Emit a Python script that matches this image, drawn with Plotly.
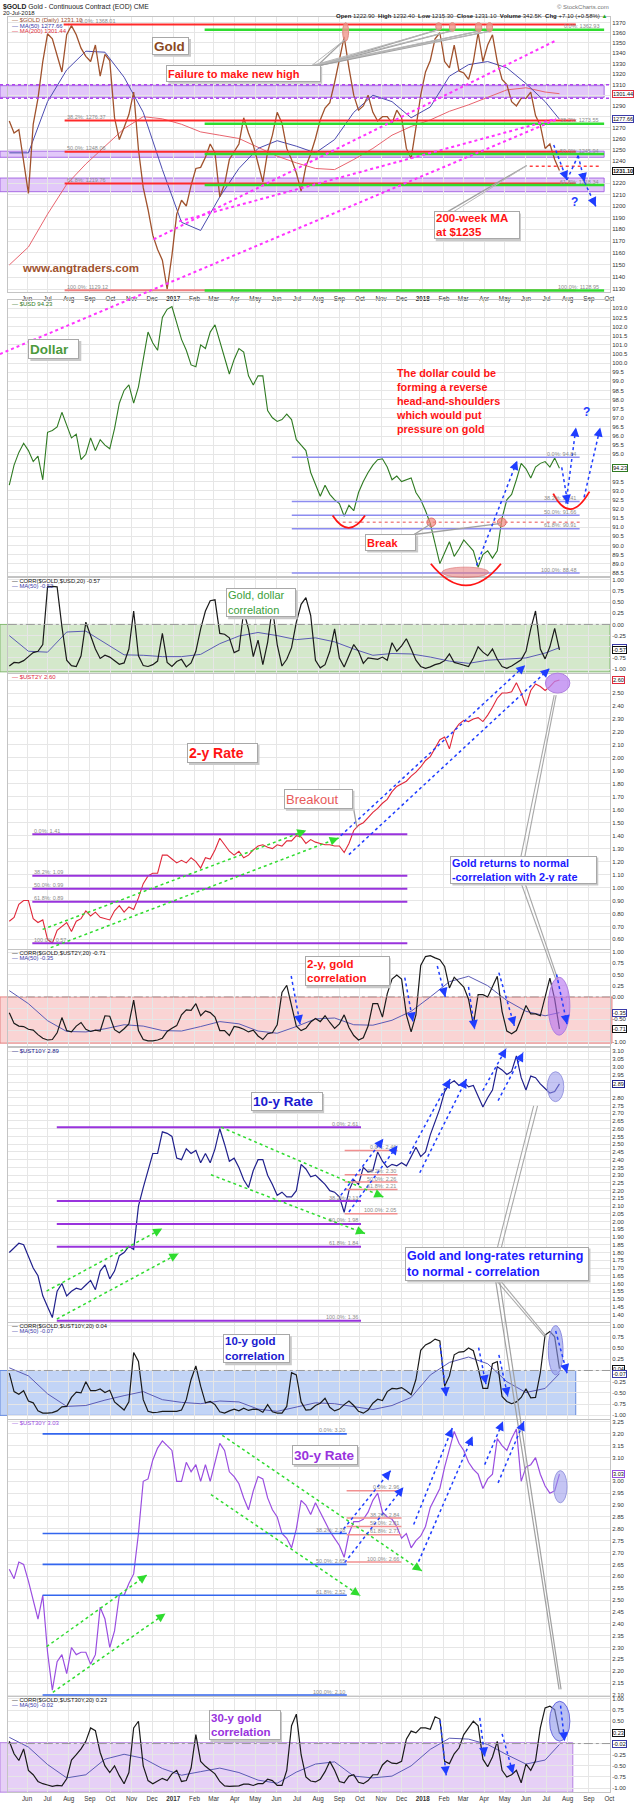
import math
import pandas as pd
import plotly.graph_objects as go

W, H = 640, 1803
SX = 2.414 / 2.45          # horizontal scale of the measured pixel positions
XL, XR = 8, 623            # plot area left/right in measured pixels
FONT = "Liberation Sans, Arial, sans-serif"

# ---------------- data (weekly Friday values) ----------------
weeks = pd.date_range("2016-05-06", "2018-07-20", freq="W-FRI")
ma_dates = weeks[list(range(0, len(weeks), 4)) + [len(weeks) - 1]]

gold = [1276, 1265, 1268, 1237, 1211, 1273, 1297, 1332, 1359, 1354,
        1337, 1322, 1358, 1367, 1358, 1345, 1337, 1332, 1348, 1318,
        1339, 1333, 1279, 1259, 1270, 1282, 1303, 1250, 1216, 1197,
        1175, 1163, 1154, 1130, 1158, 1193, 1205, 1200, 1218, 1233,
        1234, 1243, 1255, 1247, 1208, 1219, 1241, 1248, 1255, 1279,
        1265, 1254, 1238, 1221, 1248, 1263, 1284, 1274, 1251, 1241,
        1229, 1213, 1235, 1246, 1260, 1277, 1288, 1293, 1312, 1335,
        1356, 1326, 1300, 1286, 1290, 1300, 1284, 1276, 1280, 1280,
        1274, 1286, 1279, 1251, 1242, 1270, 1300, 1322, 1333, 1354,
        1360, 1332, 1326, 1348, 1323, 1321, 1315, 1332, 1360, 1332,
        1348, 1358, 1332, 1315, 1310, 1294, 1290, 1297, 1297, 1303,
        1281, 1272, 1251, 1255, 1241, 1231.1]
gold_ma50 = [1247, 1247, 1294, 1324, 1342, 1341, 1317, 1284, 1232, 1186,
             1179, 1208, 1233, 1251, 1258, 1253, 1247, 1259, 1284, 1300,
             1294, 1279, 1289, 1318, 1329, 1332, 1326, 1311, 1294, 1277.66]
gold_ma200 = [1150, 1165, 1193, 1219, 1237, 1253, 1269, 1280, 1278, 1273,
              1266, 1263, 1260, 1252, 1244, 1238, 1233, 1232, 1241, 1251,
              1263, 1271, 1277, 1285, 1291, 1298, 1305, 1307, 1303, 1301.44]

usd = [93.3, 94.4, 95.1, 95.6, 95.2, 94.6, 94.9, 93.6, 96.2, 96.3,
       96.5, 97.3, 96.6, 95.9, 96.1, 94.7, 95.0, 95.9, 95.2, 95.8,
       95.5, 95.3, 96.4, 97.8, 98.5, 98.8, 97.8, 98.7, 100.2, 101.7,
       101.1, 100.7, 102.5, 102.95, 103.1, 102.2, 101.3, 100.7, 99.9, 99.8,
       101.0, 100.8, 101.7, 102.1, 101.2, 100.2, 99.4, 100.2, 100.8, 100.6,
       99.3, 98.8, 99.3, 99.3, 97.4, 97.0, 96.8, 96.9, 97.2, 96.9,
       95.8, 95.5, 95.2, 94.0, 93.4, 92.7, 93.3, 92.8, 92.5, 92.3,
       91.6, 92.2, 91.9, 92.9, 93.5, 94.0, 94.4, 94.7, 94.75, 94.3,
       93.6, 93.8, 93.5, 93.6, 93.7, 92.9, 92.5, 91.9, 91.2, 90.1,
       89.0, 89.6, 90.2, 89.4, 89.8, 90.3, 90.0, 89.7, 88.8, 89.5,
       89.7, 89.3, 89.7, 91.5, 92.5, 92.8, 93.6, 94.5, 94.2, 93.7,
       94.3, 94.5, 94.6, 94.3, 94.8, 94.23]

corr_usd = [-0.93, -0.85, -0.86, -0.81, -0.72, -0.63, -0.6, -0.45, 0.84, 0.85,
            0.84, -0.05, -0.8, -0.92, -0.94, -0.7, 0.05, -0.25, -0.55, -0.76,
            -0.69, -0.73, -0.82, -0.89, -0.86, -0.55, 0.3, -0.7, -0.92, -0.94,
            -0.9, -0.82, -0.2, -0.85, -0.94, -0.83, -0.78, -0.95, -0.86, -0.6,
            -0.1, 0.3, 0.53, 0.55, -0.2, -0.22, -0.3, -0.63, -0.58, 0.3,
            -0.1, -0.72, -0.35, -0.9, -0.4, 0.39, -0.45, -0.93, -0.78, -0.52,
            0.05, 0.45, 0.6, 0.2, -0.8, -0.97, -0.9, -0.6, -0.1, -0.75,
            -0.95, -0.71, -0.45, -0.6, -0.87, -0.75, -0.76, -0.78, -0.73, -0.8,
            -0.41, -0.6, -0.48, -0.32, -0.55, -0.8, -0.94, -0.98, -0.95, -0.9,
            -0.87, -0.81, -0.66, -0.85, -0.88, -0.91, -0.94, -0.75, -0.5, -0.62,
            -0.7, -0.55, -0.78, -0.94, -0.98, -0.93, -0.85, -0.79, -0.6, -0.1,
            0.3, -0.55, -0.77, -0.5, -0.09, -0.57]
corr_usd_ma = [-0.25, -0.6, -0.62, -0.17, -0.15, -0.42, -0.68, -0.69, -0.72, -0.72,
               -0.67, -0.43, -0.26, -0.18, -0.25, -0.34, -0.3, -0.39, -0.55, -0.69,
               -0.65, -0.66, -0.73, -0.82, -0.87, -0.8, -0.78, -0.75, -0.64, -0.52]

ust2y = [0.74, 0.77, 0.87, 0.9, 0.9, 0.76, 0.73, 0.75, 0.6, 0.57,
         0.67, 0.7, 0.73, 0.66, 0.74, 0.76, 0.82, 0.78, 0.81, 0.77,
         0.76, 0.75, 0.82, 0.86, 0.81, 0.85, 0.83, 0.92, 1.03, 1.09,
         1.11, 1.11, 1.25, 1.25, 1.22, 1.19, 1.21, 1.19, 1.23, 1.2,
         1.15, 1.23, 1.22, 1.29, 1.38, 1.33, 1.28, 1.25, 1.28, 1.23,
         1.25, 1.29, 1.32, 1.33, 1.31, 1.3, 1.33, 1.32, 1.36, 1.36,
         1.4, 1.39, 1.34, 1.37, 1.35, 1.34, 1.33, 1.33, 1.32, 1.32,
         1.27, 1.34, 1.44, 1.48, 1.5, 1.54, 1.58, 1.61, 1.65, 1.68,
         1.74, 1.78, 1.8, 1.82, 1.86, 1.89, 1.93, 1.98, 2.01, 2.08,
         2.14, 2.16, 2.07, 2.21, 2.26, 2.29, 2.28, 2.3, 2.31, 2.28,
         2.33, 2.39, 2.46, 2.5, 2.5, 2.51, 2.58, 2.5, 2.4, 2.52,
         2.57, 2.55, 2.52, 2.55, 2.59, 2.6]

corr_2y = [-0.35, -0.59, -0.65, -0.66, -0.72, -0.74, -0.84, -0.92, -0.96, -0.95,
           -0.8, -0.46, -0.75, -0.78, -0.65, -0.57, -0.72, -0.77, -0.74, -0.76,
           -0.42, -0.43, -0.73, -0.8, -0.71, -0.6, -0.07, -0.75, -0.95, -0.98,
           -0.98, -0.96, -0.92, -0.77, -0.7, -0.64, -0.4, -0.29, -0.3, -0.15,
           -0.42, -0.31, -0.35, -0.45, -0.75, -0.75, -0.86, -0.66, -0.68, -0.72,
           -0.78, -0.74, -0.87, -0.95, -0.82, -0.8, -0.62, 0.1, 0.26, -0.2,
           -0.65, -0.75, -0.7, -0.56, -0.48, -0.55, -0.42, -0.57, -0.7, -0.6,
           -0.4, -0.68, -0.86, -0.96, -0.91, -0.65, -0.15, -0.15, -0.45, 0.07,
           0.4, 0.49, 0.4, -0.4, -0.78, -0.4, 0.7, 0.9, 0.92, 0.87,
           0.83, 0.68, 0.2, 0.44, 0.32, 0.22, -0.05, -0.62, 0.05, 0.05,
           0.0, 0.22, 0.46, -0.32, -0.76, -0.82, -0.75, -0.48, -0.19, -0.38,
           -0.38, -0.42, 0.0, 0.42, -0.05, -0.71]
corr_2y_ma = [0.14, -0.15, -0.53, -0.77, -0.78, -0.71, -0.62, -0.65, -0.75, -0.76,
              -0.66, -0.55, -0.6, -0.76, -0.81, -0.66, -0.49, -0.47, -0.62, -0.63,
              -0.52, -0.32, 0.0, 0.34, 0.46, 0.25, -0.08, -0.32, -0.42, -0.35]

ust10y = [1.80, 1.83, 1.86, 1.85, 1.78, 1.70, 1.65, 1.52, 1.45, 1.38,
          1.55, 1.6, 1.52, 1.55, 1.57, 1.56, 1.59, 1.62, 1.56, 1.68,
          1.72, 1.63, 1.68, 1.78, 1.80, 1.84, 1.82, 2.10, 2.22, 2.33,
          2.44, 2.44, 2.58, 2.57, 2.55, 2.41, 2.40, 2.47, 2.44, 2.46,
          2.38, 2.44, 2.38, 2.47, 2.6, 2.5, 2.39, 2.41, 2.35, 2.27,
          2.22, 2.33, 2.40, 2.4, 2.3, 2.24, 2.17, 2.19, 2.16, 2.16,
          2.2, 2.37, 2.34, 2.29, 2.3, 2.27, 2.24, 2.2, 2.19, 2.16,
          2.06, 2.2, 2.27, 2.24, 2.35, 2.32, 2.33, 2.45, 2.39, 2.35,
          2.37, 2.36, 2.38, 2.36, 2.42, 2.48, 2.42, 2.45, 2.56, 2.65,
          2.73, 2.84, 2.89, 2.91, 2.88, 2.9, 2.87, 2.88, 2.81, 2.74,
          2.8, 2.85, 3.0, 2.98, 2.95, 2.97, 3.07, 2.93, 2.85, 2.94,
          2.93, 2.89, 2.86, 2.83, 2.84, 2.89]

corr_10y = [-0.06, -0.47, -0.53, -0.45, -0.68, -0.72, -0.9, -0.95, -0.95, -0.94,
            -0.9, -0.81, -0.8, -0.6, -0.48, -0.5, -0.25, -0.45, -0.45, -0.41,
            -0.49, -0.44, -0.7, -0.8, -0.88, -0.7, 0.4, 0.2, -0.65, -0.91,
            -0.94, -0.93, -0.91, -0.91, -0.91, -0.91, -0.88, -0.65, -0.2, 0.1,
            -0.35, -0.72, -0.69, -0.76, -0.92, -0.95, -0.9, -0.86, -0.9, -0.84,
            -0.89, -0.86, -0.87, -0.93, -0.76, -0.92, -0.95, -0.95, -0.8, -0.05,
            -0.1, -0.7, -0.88, -0.87, -0.78, -0.73, -0.62, -0.82, -0.9, -0.86,
            -0.76, -0.68, -0.78, -0.91, -0.95, -0.88, -0.73, -0.64, -0.67, -0.47,
            -0.4, -0.41, -0.38, -0.45, -0.54, -0.2, 0.45, 0.57, 0.62, 0.7,
            0.66, -0.35, -0.12, 0.35, 0.41, 0.42, 0.5, 0.44, 0.06, -0.4,
            -0.4, 0.15, 0.2, -0.58, -0.69, -0.74, -0.7, -0.6, -0.41, -0.61,
            -0.6, -0.05, 0.79, 0.87, 0.75, 0.04]
corr_10y_ma = [0.06, -0.12, -0.52, -0.8, -0.78, -0.66, -0.56, -0.47, -0.65, -0.71,
               -0.74, -0.68, -0.7, -0.86, -0.91, -0.82, -0.72, -0.74, -0.81, -0.87,
               -0.78, -0.6, -0.1, 0.18, 0.3, 0.15, -0.25, -0.49, -0.4, -0.07]

ust30y = [2.63, 2.59, 2.66, 2.65, 2.58, 2.5, 2.42, 2.52, 2.28, 2.12,
          2.24, 2.27, 2.19, 2.3, 2.27, 2.28, 2.28, 2.23, 2.27, 2.47,
          2.42, 2.3, 2.37, 2.52, 2.52, 2.57, 2.61, 2.78, 3.0, 3.01,
          3.09, 3.14, 3.17, 3.15, 3.13, 3.0, 3.0, 3.08, 3.04, 3.07,
          3.0, 3.07, 3.0, 3.08, 3.16, 3.13, 3.04, 3.02, 2.99, 2.93,
          2.88, 2.96, 3.02, 3.01, 2.93, 2.88, 2.85, 2.78, 2.76, 2.72,
          2.8, 2.92, 2.9, 2.86, 2.91, 2.87, 2.83, 2.79, 2.76, 2.73,
          2.68, 2.78, 2.83, 2.83, 2.84, 2.87, 2.92, 2.95, 2.87, 2.85,
          2.84, 2.81, 2.76, 2.78, 2.72, 2.75, 2.77, 2.81, 2.89, 2.93,
          2.97, 3.06, 3.14, 3.21, 3.16, 3.13, 3.08, 3.05, 3.03, 2.97,
          3.01, 3.03, 3.18, 3.15, 3.13, 3.18, 3.22, 3.0, 3.06, 3.07,
          3.1, 3.03, 2.98, 2.95, 2.96, 3.03]

corr_30y = [0.05, -0.23, -0.38, -0.12, -0.6, -0.7, -0.85, -0.9, -0.93, -0.96,
            -0.94, -0.95, -0.79, -0.37, -0.25, -0.12, 0.05, 0.35, 0.29, -0.2,
            -0.5, -0.65, -0.5, -0.72, -0.9, -0.65, 0.35, 0.5, -0.5, -0.83,
            -0.9, -0.84, -0.78, -0.83, -0.68, -0.6, -0.85, -0.83, -0.55, 0.2,
            -0.4, -0.51, -0.6, -0.68, -0.85, -0.95, -0.96, -0.96, -0.95, -0.91,
            -0.91, -0.94, -0.9, -0.9, -0.8, -0.83, -0.94, -0.94, -0.6, 0.4,
            0.66, -0.25, -0.75, -0.84, -0.86, -0.8, -0.63, -0.4, -0.6, -0.85,
            -0.88, -0.73, -0.7, -0.87, -0.9, -0.83, -0.7, -0.7, -0.48, -0.38,
            -0.44, -0.45, -0.4, 0.1, 0.28, 0.24, 0.35, 0.35, 0.32, 0.6,
            0.55, -0.4, -0.45, -0.23, -0.1, 0.2, 0.34, 0.5, 0.4, -0.35,
            -0.52, -0.3, 0.05, -0.6, -0.75, -0.7, -0.6, -0.88, -0.46, -0.6,
            -0.38, 0.35, 0.8, 0.84, 0.76, 0.23]
corr_30y_ma = [0.14, -0.08, -0.47, -0.77, -0.7, -0.35, -0.24, -0.33, -0.56, -0.71,
               -0.63, -0.55, -0.65, -0.82, -0.89, -0.64, -0.46, -0.41, -0.73, -0.77,
               -0.73, -0.5, -0.13, 0.12, 0.1, -0.02, -0.25, -0.46, -0.37, -0.02]

for s in (gold, usd, corr_usd, ust2y, corr_2y, ust10y, corr_10y, ust30y, corr_30y):
    assert len(s) == len(weeks), len(s)
for s in (gold_ma50, gold_ma200, corr_usd_ma, corr_2y_ma, corr_10y_ma, corr_30y_ma):
    assert len(s) == len(ma_dates), len(s)

# last values shown in boxes on the price axis
last_marks = {
    "gold": [(1301.44, "1301.44", "#e03040", False), (1277.66, "1277.66", "#3a3aa8", False),
             (1231.10, "1231.10", "#111", True)],
    "usd": [(94.23, "94.23", "#2f7a22", False)],
    "cusd": [(-0.52, "-0.52", "#3a3aa8", False), (-0.57, "-0.57", "#111", False)],
    "u2": [(2.60, "2.60", "#e0283a", False)],
    "c2": [(-0.35, "-0.35", "#3a3aa8", False), (-0.71, "-0.71", "#111", False)],
    "u10": [(2.89, "2.89", "#20208c", False)],
    "c10": [(0.04, "0.04", "#111", False), (-0.07, "-0.07", "#3a3aa8", False)],
    "u30": [(3.03, "3.03", "#9a4ee0", False)],
    "c30": [(0.23, "0.23", "#111", False), (-0.02, "-0.02", "#3a3aa8", False)],
}

# ---------------- panel geometry: key -> (top px, bottom px, low, high, log) ----------------
KEYS = ["gold", "usd", "cusd", "u2", "c2", "u10", "c10", "u30", "c30"]
P = {
    "gold": (15, 291, 1127.6, 1375.6, True),
    "usd": (299, 576, 88.30, 103.45, False),
    "cusd": (578, 673, -1.089, 1.029, False),
    "u2": (674, 950, 0.523, 2.646, False),
    "c2": (951, 1047, -1.096, 1.038, False),
    "u10": (1049, 1324, 1.349, 3.121, False),
    "c10": (1325, 1421, -1.082, 1.051, False),
    "u30": (1422, 1699, 2.0946, 3.258, False),
    "c30": (1700, 1795, -1.087, 1.038, False),
}
corr_ticks = [-1 + 0.25 * k for k in range(9)]
TICKS = {
    "gold": ([1130 + 10 * k for k in range(25)], "{:.0f}"),
    "usd": ([88.5 + 0.5 * k for k in range(30)], "{:.1f}"),
    "cusd": (corr_ticks, "{:.2f}"),
    "u2": ([0.6 + 0.1 * k for k in range(21)], "{:.2f}"),
    "c2": (corr_ticks, "{:.2f}"),
    "u10": ([1.40 + 0.05 * k for k in range(35)], "{:.2f}"),
    "c10": (corr_ticks, "{:.2f}"),
    "u30": ([2.10 + 0.05 * k for k in range(24)], "{:.2f}"),
    "c30": (corr_ticks, "{:.2f}"),
}


def vy(key, v):
    top, bot, lo, hi, log = P[key]
    if log:
        f = (math.log10(hi) - math.log10(v)) / (math.log10(hi) - math.log10(lo))
    else:
        f = (hi - v) / (hi - lo)
    return top + f * (bot - top)


def px2date(x):
    return pd.Timestamp("2017-01-01") + pd.to_timedelta((x - 177) / 0.698, unit="D")


def X(x):
    return x * SX / W


def Y(y):
    return 1 - y / H


GRID = "#e6e6e6"
EDGE = "#c4c4c4"
RED = "#ff1414"
BLUE = "#1f3dff"
GREEN_A = "#2fdc2f"

fig = go.Figure()


def ax_id(key):
    k = KEYS.index(key) + 1
    return "" if k == 1 else str(k)


def add(key, x, y, color, width=1.1):
    s = ax_id(key)
    fig.add_trace(go.Scatter(x=x, y=y, mode="lines", line=dict(color=color, width=width),
                             xaxis="x" + s, yaxis="y" + s, hoverinfo="skip", showlegend=False))


add("gold", ma_dates, gold_ma200, "#e8646e", 1.0)
add("gold", ma_dates, gold_ma50, "#4b4bb0", 1.0)
add("gold", weeks, gold, "#a0522d", 1.3)
add("usd", weeks, usd, "#2f7a22", 1.1)
add("cusd", ma_dates, corr_usd_ma, "#5b5bb5", 1.0)
add("cusd", weeks, corr_usd, "#1a1a1a", 1.2)
add("u2", weeks, ust2y, "#e0283a", 1.1)
add("c2", ma_dates, corr_2y_ma, "#5b5bb5", 1.0)
add("c2", weeks, corr_2y, "#1a1a1a", 1.2)
add("u10", weeks, ust10y, "#20208c", 1.2)
add("c10", ma_dates, corr_10y_ma, "#5b5bb5", 1.0)
add("c10", weeks, corr_10y, "#1a1a1a", 1.2)
add("u30", weeks, ust30y, "#9a4ee0", 1.2)
add("c30", ma_dates, corr_30y_ma, "#5b5bb5", 1.0)
add("c30", weeks, corr_30y, "#1a1a1a", 1.2)

# ---------------- axes ----------------
xr = [px2date(XL), px2date(XR)]
months = pd.date_range("2016-06-01", "2018-10-01", freq="MS")
month_text = ["<b>%d</b>" % d.year if d.month == 1 else d.strftime("%b") for d in months]
layout = {}
for key in KEYS:
    s = ax_id(key)
    top, bot, lo, hi, log = P[key]
    vals, fmt = TICKS[key]
    covered = [vy(key, m[0]) for m in last_marks[key]]
    labels = ["" if any(abs(vy(key, v) - c) < 6.5 for c in covered) else fmt.format(v)
              for v in vals]
    show_x = key in ("gold", "c30")
    layout["xaxis" + s] = dict(domain=[X(XL), X(XR)], anchor="y" + s, type="date", range=xr,
                               tickvals=list(months), ticktext=month_text, showticklabels=show_x,
                               ticks="", showgrid=True, gridcolor=GRID, zeroline=False,
                               showline=True, mirror=True, linecolor=EDGE,
                               tickfont=dict(size=6.3, color="#333"), fixedrange=True)
    layout["yaxis" + s] = dict(domain=[Y(bot), Y(top)], anchor="x" + s, side="right",
                               type="log" if log else "linear",
                               range=[math.log10(lo), math.log10(hi)] if log else [lo, hi],
                               tickvals=vals, ticktext=labels,
                               ticks="", showgrid=True, gridcolor=GRID, zeroline=False,
                               showline=True, mirror=True, linecolor=EDGE,
                               tickfont=dict(size=6, color="#333"), fixedrange=True)

# ---------------- drawing helpers (chart markup, measured pixel positions) ----------------
shapes, annos = [], []


def line(x0, y0, x1, y1, color, width=1.5, dash=None, layer="above"):
    shapes.append(dict(type="line", xref="paper", yref="paper", x0=X(x0), y0=Y(y0),
                       x1=X(x1), y1=Y(y1), layer=layer,
                       line=dict(color=color, width=width, dash=dash)))


def arrow(x0, y0, x1, y1, color=BLUE, width=1.5, dash="dot"):
    line(x0, y0, x1, y1, color, width, dash)
    dx, dy = (x1 - x0) * SX, (y1 - y0)
    L = math.hypot(dx, dy)
    annos.append(dict(xref="paper", yref="paper", x=X(x1), y=Y(y1), ax=-dx / L * 7, ay=-dy / L * 7,
                      showarrow=True, arrowhead=2, arrowsize=1.2, arrowwidth=width,
                      arrowcolor=color, text=""))


def ellipse(x0, y0, x1, y1, fill, edge):
    shapes.append(dict(type="circle", xref="paper", yref="paper", x0=X(x0), y0=Y(y1),
                       x1=X(x1), y1=Y(y0), fillcolor=fill, line=dict(color=edge, width=1),
                       layer="above"))


def arc(p0, c, p1, color=RED, width=1.8):
    f = lambda p: "%.5f,%.5f" % (X(p[0]), Y(p[1]))
    shapes.append(dict(type="path", xref="paper", yref="paper",
                       path="M %s Q %s %s" % (f(p0), f(c), f(p1)),
                       line=dict(color=color, width=width), layer="above"))


def hlev(key, v, x0, x1, color, width=2, dash=None):
    y = vy(key, v)
    line(x0, y, x1, y, color, width, dash)


def band(key, v0, v1, x0, x1, fill, edge):
    shapes.append(dict(type="rect", xref="paper", yref="paper", x0=X(x0), x1=X(x1),
                       y0=Y(vy(key, v0)), y1=Y(vy(key, v1)), fillcolor=fill,
                       line=dict(color=edge, width=1), layer="below"))


def text(x, y, s, color, size, xanchor="left", yanchor="middle", align="left"):
    annos.append(dict(xref="paper", yref="paper", x=X(x), y=Y(y), text=s, showarrow=False,
                      xanchor=xanchor, yanchor=yanchor, align=align,
                      font=dict(size=size, color=color, family=FONT)))


def box(x, y, w, h, s, color, size, bold=True):
    shapes.append(dict(type="rect", xref="paper", yref="paper", x0=X(x) + 2 / W,
                       x1=X(x + w) + 2 / W, y0=Y(y + h + 2), y1=Y(y + 2), fillcolor="#c9c9c9",
                       line=dict(width=0), layer="above"))
    annos.append(dict(xref="paper", yref="paper", x=X(x), y=Y(y), xanchor="left",
                      yanchor="top", width=w * SX - 4, height=h - 4, borderpad=1, borderwidth=1,
                      bordercolor="#a8a8a8", bgcolor="white", showarrow=False, align="left",
                      valign="middle", text=("<b>%s</b>" % s) if bold else s,
                      font=dict(size=size, color=color, family=FONT)))


def fiblab(key, v, s, x, anchor):
    text(x, vy(key, v) - 3.5, s, "#8c8c8c", 5.5, xanchor=anchor)


for key in KEYS:
    for v, s, color, bold in last_marks[key]:
        annos.append(dict(xref="paper", yref="paper", x=616 / W, y=Y(vy(key, v)),
                          xanchor="left", yanchor="middle", text=("<b>%s</b>" % s) if bold else s,
                          showarrow=False, bgcolor="white", bordercolor=color, borderwidth=1,
                          borderpad=0, font=dict(size=5.6, color="#111", family=FONT)))

# ---------------- header ----------------
text(1, 5, "<b>$GOLD</b> Gold - Continuous Contract (EOD) CME", "#222", 6.8)
text(1, 11, "20-Jul-2018", "#222", 6)
text(624, 5, "© StockCharts.com", "#777", 6, xanchor="right")
text(622, 14, "<b>Open</b> 1222.90  <b>High</b> 1232.40  <b>Low</b> 1215.30  <b>Close</b> 1231.10  "
     "<b>Volume</b> 342.5K  <b>Chg</b> +7.10 (+0.58%) <span style='color:#2a2'>▲</span>",
     "#222", 6, xanchor="right")

# ---------------- gold panel markup ----------------
PURPLE_FILL, PURPLE_EDGE = "rgba(185,125,240,0.42)", "rgba(160,95,225,0.9)"
band("gold", 1298, 1309, 0, 617, PURPLE_FILL, PURPLE_EDGE)
band("gold", 1243, 1248.5, 0, 617, PURPLE_FILL, PURPLE_EDGE)
band("gold", 1212.5, 1224.5, 0, 617, PURPLE_FILL, PURPLE_EDGE)
hlev("gold", 1309.8, 0, 623, "#b044f0", 1.5, "dot")
hlev("gold", 1297.2, 0, 623, "#b044f0", 1.5, "dot")

for v, lab in [(1276.37, "38.2%: 1276.37"), (1248.06, "50.0%: 1248.06"),
               (1219.76, "61.8%: 1219.76"), (1129.12, "100.0%: 1129.12")]:
    hlev("gold", v, 66, 588, "#ff2a2a" if v > 1200 else "#f08080", 2)
    fiblab("gold", v, lab, 66, "left")
hlev("gold", 1368.01, 65, 588, "#ff2a2a", 2)
fiblab("gold", 1368.01, "0.0%: 1368.01", 80, "left")
for v, lab in [(1362.93, "0.0%: 1362.93"), (1273.55, "38.2%: 1273.55"), (1245.94, "50.0%: 1245.94"),
               (1218.34, "61.8%: 1218.34"), (1128.95, "100.0%: 1128.95")]:
    hlev("gold", v, 209, 617, GREEN_A, 2.5)
    fiblab("gold", v, lab, 614, "right")

MAG = "#ff33ff"
line(157, 238, 567, 39, MAG, 2, "dot")
line(183, 220, 568, 117, MAG, 2, "dot")
line(0, 353, 568, 118, MAG, 2, "dot")
hlev("gold", 1235, 541, 614, "#ff4040", 1.5, "dot")

for e in [(350, 20.7, 356, 39.3), (445, 20.7, 451, 28.3), (459, 20.7, 465, 29.3),
          (485.5, 20.7, 492, 30), (497, 20.7, 503, 30)]:
    ellipse(*e, fill="rgba(240,150,140,0.8)", edge="#e08a80")
for tx, ty in [(352, 38), (447, 28), (461, 29), (488, 29.5), (499, 29.5)]:
    line(324, 64, tx, ty, "#a0a0a0", 1.3)
    line(318, 64, tx, ty, "#b8b8b8", 1.0)

box(155, 35, 38, 18, "Gold", "#8b4a1f", 13.5)
box(170, 63, 157, 17, "Failure to make new high", RED, 11)
line(456, 211, 538, 164, "#a0a0a0", 1.3)
line(462, 211, 538, 164, "#b8b8b8", 1.0)
box(443, 210, 87, 28, "200-week MA<br>at $1235", RED, 11.5)
arrow(565.5, 143.3, 579, 178.5)
line(579, 178.5, 590.5, 154, BLUE, 1.5, "dot")
arrow(590.5, 154, 597, 180.5)
arrow(597, 180.5, 608.5, 205)
text(587, 201, "<b>?</b>", BLUE, 12, xanchor="center")
text(20, 267, "<b>www.angtraders.com</b>", "#a0522d", 11.5)

text(10, 18.5, "— $GOLD (Daily) 1231.10", "#a0522d", 6)
text(10, 24, "— MA(50) 1277.66", "#3a3aa8", 6)
text(10, 29.5, "— MA(200) 1301.44", "#e03040", 6)

# ---------------- dollar panel markup ----------------
text(10, 302.5, "— $USD 94.23", "#2f7a22", 6)
box(29, 338, 52, 20, "Dollar", "#4c9a3c", 13.5)
text(402, 364, "<b>The dollar could be<br>forming a reverse<br>head-and-shoulders<br>"
     "which would put<br>pressure on gold</b>", RED, 10.8, yanchor="top")
for v, lab in [(94.84, "0.0%: 94.84"), (92.41, "38.2%: 92.41"), (91.66, "50.0%: 91.66"),
               (90.91, "61.8%: 90.91"), (88.48, "100.0%: 88.48")]:
    hlev("usd", v, 298, 592, "#8c8cf0", 1.5)
    fiblab("usd", v, lab, 590, "right")
hlev("usd", 91.27, 350, 592, "#f08a8a", 1.3, "dot")
ellipse(436, 517.5, 445, 526, "rgba(240,130,120,0.65)", "#e07070")
ellipse(508, 517.5, 517, 526, "rgba(240,130,120,0.65)", "#e07070")
line(423, 534, 439, 524, "#a0a0a0", 1.3)
line(423, 534, 510, 523, "#a0a0a0", 1.3)
box(373, 533, 52, 17, "Break", RED, 11)
arc((339.7, 515), (356, 539.6), (372.8, 515))
arc((440, 563.3), (476, 606.7), (511.6, 563.3))
arc((565, 493), (582, 525), (602, 491))
ellipse(451.5, 566.7, 499, 577, "rgba(230,120,120,0.55)", "rgba(220,110,110,0.6)")
arrow(486.7, 565, 528.2, 460)
arrow(573.7, 466.7, 580, 503.3)
arrow(578, 503, 588.2, 426.7)
arrow(596.5, 496.7, 613, 426.7)
text(598.6, 411, "<b>?</b>", BLUE, 12, xanchor="center")

# ---------------- gold / dollar correlation ----------------
text(10, 580.8, "— CORR($GOLD,$USD,20) -0.57", "#111", 5.8)
text(10, 585.8, "— MA(50) -0.52", "#3a3aa8", 5.8)
band("cusd", 0.0, -1.06, 0, 623, "rgba(160,205,140,0.45)", "rgba(120,180,100,0.9)")
hlev("cusd", 0.0, 8, 623, "#9a9a9a", 1, "dashdot")
box(231, 588, 71, 29, "Gold, dollar<br>correlation", "#3aa03a", 11, bold=False)

# ---------------- 2-year rate ----------------
text(10, 677.3, "— $UST2Y 2.60", "#e0283a", 6)
for v, lab in [(1.41, "0.0%: 1.41"), (1.09, "38.2%: 1.09"), (0.99, "50.0%: 0.99"),
               (0.89, "61.8%: 0.89"), (0.57, "100.0%: 0.57")]:
    hlev("u2", v, 33, 416, "#9933dd", 2)
    fiblab("u2", v, lab, 33, "left")
arrow(51.8, 948.3, 345.9, 838.3, GREEN_A)
arrow(43.5, 930, 312.8, 830.7, GREEN_A)
arrow(348, 836, 536.4, 665)
arrow(356.3, 855, 561.3, 668.3)
ellipse(557, 673, 582, 693, "rgba(185,130,240,0.75)", "#b080e0")
box(191, 743, 72, 20, "2-y Rate", RED, 14)
line(358, 791, 364.5, 828, "#a0a0a0", 1.3)
box(290, 789, 70, 20, "Breakout", "#e85a5a", 13, bold=False)
for dx in (0, 4):
    line(532 + dx, 857, 566 + dx * 0.5, 695, "#a8a8a8", 1.1)
    line(532 + dx, 883, 568 + dx * 0.5, 981, "#a8a8a8", 1.1)
box(460, 856, 149, 28, "Gold returns to normal<br>-correlation with 2-y rate", "#1a1aff", 10.8)

# ---------------- 2-year / gold correlation ----------------
text(10, 953.3, "— CORR($GOLD,$UST2Y,20) -0.71", "#111", 5.8)
text(10, 958.3, "— MA(50) -0.35", "#3a3aa8", 5.8)
band("c2", 0.0, -1.03, 0, 625, "rgba(245,160,160,0.45)", "rgba(225,120,120,0.9)")
hlev("c2", 0.0, 8, 623, "#b09090", 1, "dashdot")
box(311, 957, 86, 30, "2-y, gold<br>correlation", RED, 11.5)
for a in [(297.4, 976.7, 306.5, 1025), (413.4, 978.3, 421.7, 1022.3), (446.6, 966.7, 454.8, 997.7),
          (478.5, 987.7, 484.7, 1030), (509.5, 973.3, 525.3, 1026.7)]:
    arrow(*a)
ellipse(560, 978, 582, 1036, "rgba(180,110,240,0.6)", "#b080e0")
arrow(568.4, 975, 579.1, 1025)

# ---------------- 10-year rate ----------------
text(10, 1052, "— $UST10Y 2.89", "#20208c", 6)
for v, lab in [(2.61, "0.0%: 2.61"), (2.1325, "38.2%: 2.13"), (1.985, "50.0%: 1.98"),
               (1.8375, "61.8%: 1.84"), (1.36, "100.0%: 1.36")]:
    hlev("u10", v, 58, 368.7, "#9933dd", 2)
    fiblab("u10", v, lab, 368, "right")
for v, lab in [(2.46, "0.0%: 2.46"), (2.303, "38.2%: 2.30"), (2.255, "50.0%: 2.26"),
               (2.207, "61.8%: 2.21"), (2.05, "100.0%: 2.05")]:
    hlev("u10", v, 352, 406, "#f29090", 1.5)
    fiblab("u10", v, lab, 406, "right")
arrow(225.8, 1128.3, 391.5, 1198.3, GREEN_A)
arrow(215.4, 1176, 372.8, 1235, GREEN_A)
arrow(47.6, 1292.7, 165.7, 1230, GREEN_A)
arrow(58, 1320.7, 182.3, 1255, GREEN_A)
for a in [(348, 1196.7, 391.5, 1140), (356.3, 1213.3, 406, 1146.7), (418.4, 1155, 459.8, 1080),
          (428.7, 1174, 476.4, 1080), (493, 1091.7, 517, 1049.3), (508.7, 1101.7, 534.4, 1053.3)]:
    arrow(*a)
ellipse(559, 1072.7, 575.8, 1102.7, "rgba(150,150,235,0.55)", "#9a9ae0")
box(256, 1093, 73, 19, "10-y Rate", "#1a1ad0", 13.5)
for dx in (0, 4):
    line(508 + dx, 1249, 545 + dx, 1107, "#a8a8a8", 1.1)
    line(506 + dx, 1281, 556 + dx * 0.5, 1338, "#a8a8a8", 1.1)
    line(506 + dx, 1281, 571 + dx * 0.5, 1692, "#a0a0a0", 1.2)
box(414, 1248, 187, 34, "Gold and long-rates returning<br>to normal - correlation", "#1a1aff", 12.5)

# ---------------- 10-year / gold correlation ----------------
text(10, 1327.8, "— CORR($GOLD,$UST10Y,20) 0.04", "#111", 5.8)
text(10, 1332.8, "— MA(50) -0.07", "#3a3aa8", 5.8)
band("c10", 0.0, -1.0, 0, 588, "rgba(120,160,235,0.45)", "rgba(90,130,220,0.9)")
hlev("c10", 0.0, 8, 623, "#9a9a9a", 1, "dashdot")
box(228, 1336, 68, 29, "10-y gold<br>correlation", "#1a1ad0", 11.5)
for a in [(449.5, 1346.7, 455.7, 1398.3), (488.8, 1349.3, 496.3, 1386), (509.5, 1356.7, 518.6, 1398.3)]:
    arrow(*a)
ellipse(560, 1327.3, 575, 1376.7, "rgba(140,150,235,0.6)", "#8a8ae0")
arrow(567.5, 1332.7, 579.1, 1375)

# ---------------- 30-year rate ----------------
text(10, 1424.8, "— $UST30Y 3.03", "#9a4ee0", 6)
for v, lab in [(3.20, "0.0%: 3.20"), (2.78, "38.2%: 2.78"), (2.65, "50.0%: 2.65"),
               (2.52, "61.8%: 2.52"), (2.10, "100.0%: 2.10")]:
    hlev("u30", v, 43.5, 354.2, "#3366ee", 1.6)
    fiblab("u30", v, lab, 354, "right")
for v, lab in [(2.96, "0.0%: 2.96"), (2.845, "38.2%: 2.84"), (2.81, "50.0%: 2.81"),
               (2.775, "61.8%: 2.77"), (2.66, "100.0%: 2.66")]:
    hlev("u30", v, 354, 410, "#f29090", 1.5)
    fiblab("u30", v, lab, 410, "right")
arrow(227, 1437.3, 430.8, 1573.3, GREEN_A)
arrow(215.4, 1496.7, 367.9, 1598.3, GREEN_A)
arrow(53.9, 1695, 169, 1616, GREEN_A)
arrow(47.6, 1649.3, 150, 1577.3, GREEN_A)
for a in [(347, 1536, 399, 1472.7), (352, 1565, 412, 1489.3), (422.5, 1526.7, 461.9, 1430),
          (427.5, 1564, 482.6, 1438.3), (495, 1466.7, 513.7, 1423.3), (508.7, 1485, 535.2, 1423.3)]:
    arrow(*a)
ellipse(565.4, 1472.7, 579.1, 1505, "rgba(150,150,235,0.55)", "#9a9ae0")
box(298, 1447, 67, 20, "30-y Rate", "#9933dd", 13.5)

# ---------------- 30-year / gold correlation ----------------
text(10, 1702.5, "— CORR($GOLD,$UST30Y,20) 0.23", "#111", 5.8)
text(10, 1707.5, "— MA(50) -0.02", "#3a3aa8", 5.8)
band("c30", 0.02, -1.09, 0, 585, "rgba(200,150,235,0.45)", "rgba(175,120,225,0.9)")
hlev("c30", 0.0, 8, 623, "#9a9a9a", 1, "dashdot")
box(213, 1713, 73, 30, "30-y gold<br>correlation", "#9933dd", 11.5)
for a in [(449.5, 1723.3, 455.7, 1778.3), (490, 1720.7, 495, 1759.3), (512.8, 1736.7, 524, 1776.7)]:
    arrow(*a)
ellipse(561.3, 1704, 582, 1744, "rgba(140,150,235,0.6)", "#6a6ae0")
arrow(572.5, 1708.3, 576.6, 1744)

fig.update_layout(width=W, height=H, margin=dict(l=0, r=0, t=0, b=0), autosize=False,
                  paper_bgcolor="white", plot_bgcolor="rgba(0,0,0,0)", showlegend=False,
                  font=dict(family=FONT, size=7, color="#333"),
                  shapes=shapes, annotations=annos, **layout)

fig.write_html("out.html", config={"displayModeBar": False},
               post_script="document.body.style.margin='0';document.body.style.padding='0';")
